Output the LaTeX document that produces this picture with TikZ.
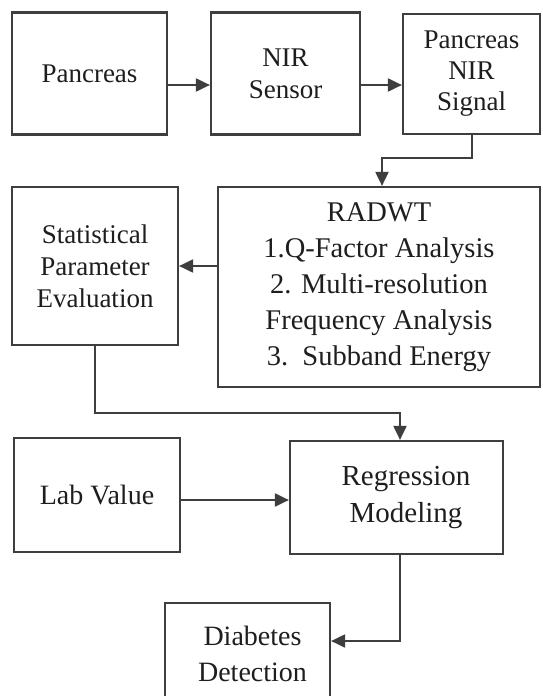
\documentclass[tikz,border=0pt]{standalone}
\usepackage{fontspec}
\setmainfont{Liberation Serif}
\usetikzlibrary{arrows.meta,calc}
\definecolor{linec}{RGB}{62,62,62}
\definecolor{textc}{RGB}{30,30,30}
\tikzset{
  boxnode/.style={draw=linec, line width=2.2pt, rectangle, inner sep=0pt, align=center,
    text=textc, font=\fontsize{28}{36}\selectfont},
  arr/.style={draw=linec, line width=2pt, -{Triangle[length=14pt,width=13pt]}},
}
\begin{document}
\begin{tikzpicture}[x=1pt,y=-1pt]
\useasboundingbox (0,0) rectangle (542,696);
\clip (0,0) rectangle (542,696);
\fill[white] (0,0) rectangle (542,696);
\node[boxnode, minimum width=155pt, minimum height=122pt, font=\fontsize{27}{34}\selectfont] (pan) at (89.5,73.5) {Pancreas};
\node[boxnode, minimum width=149pt, minimum height=122pt, font=\fontsize{27}{32}\selectfont] (nir) at (285.5,73.5) {NIR\\Sensor};
\node[boxnode, minimum width=137pt, minimum height=120pt, font=\fontsize{27}{31}\selectfont] (sig) at (471.5,74) {Pancreas\\NIR\\Signal};
\node[boxnode, minimum width=166pt, minimum height=158pt, font=\fontsize{27}{32}\selectfont] (stat) at (95,266) {Statistical\\Parameter\\Evaluation};
\node[boxnode, minimum width=322pt, minimum height=200pt, font=\fontsize{28.5}{36}\selectfont] (rad) at (379,287) {RADWT\\1.Q-Factor Analysis\\2. Multi-resolution\\Frequency Analysis\\3.\ \ Subband Energy};
\node[boxnode, minimum width=166pt, minimum height=114pt] (lab) at (97,495) {Lab Value};
\node[boxnode, minimum width=213pt, minimum height=113pt, font=\fontsize{29}{37}\selectfont] (reg) at (396.5,497.5) {\hspace*{19pt}Regression\\\hspace*{19pt}Modeling};
\node[boxnode, minimum width=165pt, minimum height=101pt] (dia) at (247.5,653.5) {\hspace*{10pt}Diabetes\\\hspace*{10pt}Detection};
% connectors
\draw[arr] ([yshift=-11.5pt]pan.east) -- ([yshift=-11.5pt]nir.west);
\draw[arr] ([yshift=-11.5pt]nir.east) -- ([yshift=-11.5pt]nir.east -| sig.west);
\draw[arr] (sig.south) -- ++(0,23) -| ([xshift=3pt]rad.north);
\draw[arr] (rad.west |- stat.east) -- (stat.east);
\coordinate (j) at (400,413);
\draw[arr] (stat.south) |- (j) -- (j |- reg.north);
\coordinate (la) at ([yshift=-5pt]lab.east);
\draw[arr] (la) -- (la -| reg.west);
\draw[arr] ([xshift=3.5pt]reg.south) |- ([yshift=12.5pt]dia.east);
\end{tikzpicture}
\end{document}
